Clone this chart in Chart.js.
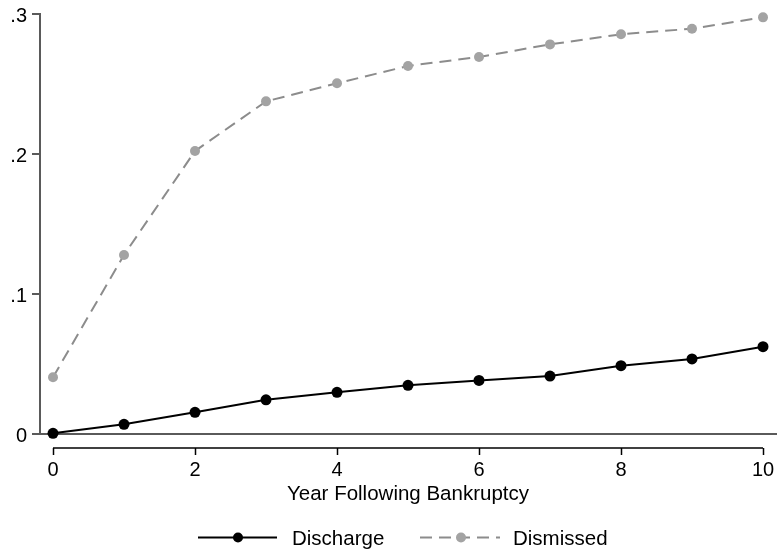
<!DOCTYPE html>
<html>
<head>
<meta charset="utf-8">
<title>Year Following Bankruptcy</title>
<script src="https://cdn.jsdelivr.net/npm/chart.js@4"></script>
<style>
  html, body { margin: 0; padding: 0; background: #ffffff; }
  #wrap { width: 777px; height: 554px; position: relative; }
</style>
</head>
<body>
<div id="wrap"><canvas id="chart" width="777" height="554"></canvas></div>
<script>
// Years after filing
const years = [0, 1, 2, 3, 4, 5, 6, 7, 8, 9, 10];
// Cumulative shares by outcome
const discharge = [0.0005, 0.0069, 0.0155, 0.0244, 0.0298, 0.0348, 0.0383, 0.0414, 0.0488, 0.0536, 0.0624];
const dismissed = [0.0405, 0.1279, 0.2021, 0.2376, 0.2505, 0.2629, 0.2693, 0.2783, 0.2855, 0.2895, 0.2976];
// Axis ticks and labels
const xTicks = [0, 2, 4, 6, 8, 10];
const yTicks = [0, 0.1, 0.2, 0.3];
const yTickLabels = ['0', '.1', '.2', '.3'];
const xTitle = 'Year Following Bankruptcy';
const seriesNames = ['Discharge', 'Dismissed'];

const FONT = '"Liberation Sans", Arial, Helvetica, sans-serif';
const DASH = [12, 7];

const toPoints = (vals) => years.map((yr, i) => ({ x: yr, y: vals[i] }));

// Draws Stata-style axes, the zero line, tick labels, axis title and legend
const axesPlugin = {
  id: 'stataAxes',
  beforeDatasetsDraw(chart) {
    const { ctx, scales: { x, y } } = chart;
    const W = chart.width;
    const yAxisX = 40;
    const xAxisY = 448;
    ctx.save();
    // vertical y axis
    ctx.strokeStyle = '#5a5a5a';
    ctx.lineWidth = 2;
    ctx.beginPath();
    ctx.moveTo(yAxisX, y.getPixelForValue(0.3) - 1);
    ctx.lineTo(yAxisX, y.getPixelForValue(0));
    ctx.stroke();
    // y ticks
    yTicks.forEach((v) => {
      const py = Math.round(y.getPixelForValue(v));
      ctx.beginPath();
      ctx.moveTo(yAxisX - 8, py);
      ctx.lineTo(yAxisX, py);
      ctx.stroke();
    });
    // zero line across the plot
    const p0 = Math.round(y.getPixelForValue(0));
    ctx.beginPath();
    ctx.moveTo(yAxisX, p0);
    ctx.lineTo(W, p0);
    ctx.stroke();
    // x axis below the plot
    ctx.strokeStyle = '#000000';
    ctx.lineWidth = 1.5;
    ctx.beginPath();
    ctx.moveTo(x.getPixelForValue(0), xAxisY);
    ctx.lineTo(x.getPixelForValue(10), xAxisY);
    ctx.stroke();
    xTicks.forEach((v) => {
      const px = Math.round(x.getPixelForValue(v)) + 0.5;
      ctx.beginPath();
      ctx.moveTo(px, xAxisY);
      ctx.lineTo(px, xAxisY + 7);
      ctx.stroke();
    });
    // tick labels
    ctx.fillStyle = '#000000';
    ctx.font = '20px ' + FONT;
    ctx.textBaseline = 'alphabetic';
    ctx.textAlign = 'right';
    yTicks.forEach((v, i) => {
      ctx.fillText(yTickLabels[i], 27, y.getPixelForValue(v) + 8);
    });
    ctx.textAlign = 'center';
    xTicks.forEach((v) => {
      ctx.fillText(String(v), x.getPixelForValue(v), 476);
    });
    // axis title
    ctx.font = '20.5px ' + FONT;
    ctx.fillText(xTitle, (x.getPixelForValue(0) + x.getPixelForValue(10)) / 2, 500);
    ctx.restore();
  },
  afterDraw(chart) {
    const { ctx } = chart;
    const ly = 537.5;
    ctx.save();
    // Discharge key
    ctx.strokeStyle = '#000000';
    ctx.lineWidth = 2;
    ctx.setLineDash([]);
    ctx.beginPath();
    ctx.moveTo(198, ly);
    ctx.lineTo(277, ly);
    ctx.stroke();
    ctx.fillStyle = '#000000';
    ctx.beginPath();
    ctx.arc(238, ly, 5, 0, Math.PI * 2);
    ctx.fill();
    // Dismissed key
    ctx.strokeStyle = '#8c8c8c';
    ctx.setLineDash(DASH);
    ctx.beginPath();
    ctx.moveTo(420, ly);
    ctx.lineTo(500, ly);
    ctx.stroke();
    ctx.setLineDash([]);
    ctx.fillStyle = '#a3a3a3';
    ctx.beginPath();
    ctx.arc(461, ly, 5, 0, Math.PI * 2);
    ctx.fill();
    // legend text
    ctx.fillStyle = '#000000';
    ctx.font = '20.5px ' + FONT;
    ctx.textAlign = 'left';
    ctx.textBaseline = 'alphabetic';
    ctx.fillText(seriesNames[0], 292, 545);
    ctx.fillText(seriesNames[1], 513, 545);
    ctx.restore();
  }
};

new Chart(document.getElementById('chart'), {
  type: 'line',
  data: {
    datasets: [
      {
        label: seriesNames[1],
        data: toPoints(dismissed),
        borderColor: '#8c8c8c',
        backgroundColor: '#a3a3a3',
        pointBackgroundColor: '#a3a3a3',
        pointBorderColor: '#a3a3a3',
        borderWidth: 2,
        borderDash: DASH,
        pointRadius: 5,
        pointBorderWidth: 0,
        tension: 0,
        clip: false
      },
      {
        label: seriesNames[0],
        data: toPoints(discharge),
        borderColor: '#000000',
        backgroundColor: '#000000',
        pointBackgroundColor: '#000000',
        pointBorderColor: '#000000',
        borderWidth: 2,
        pointRadius: 5.5,
        pointBorderWidth: 0,
        tension: 0,
        clip: false
      }
    ]
  },
  options: {
    responsive: false,
    animation: false,
    devicePixelRatio: 1,
    layout: { padding: { left: 53, right: 14, top: 14, bottom: 120 } },
    plugins: { legend: { display: false }, tooltip: { enabled: false } },
    scales: {
      x: { type: 'linear', min: 0, max: 10, display: false },
      y: { type: 'linear', min: 0, max: 0.3, display: false }
    }
  },
  plugins: [axesPlugin]
});
</script>
</body>
</html>
